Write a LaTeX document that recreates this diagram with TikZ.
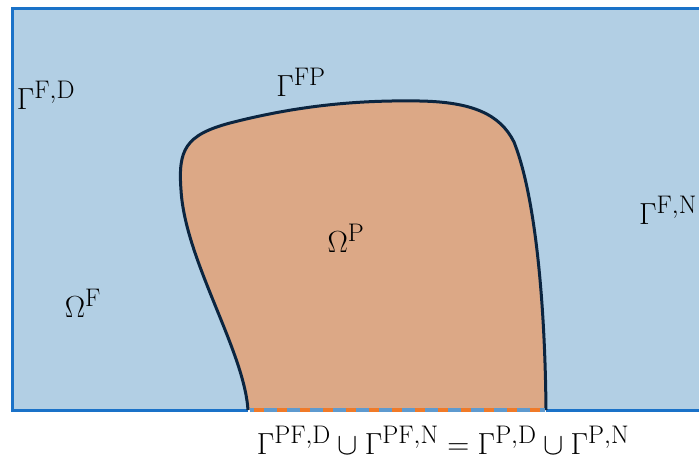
\documentclass[tikz,border=0pt]{standalone}
\usepackage{amsmath}
\usepackage{graphicx}
\definecolor{rimblue}{HTML}{1A72C8}
\definecolor{fluidfill}{HTML}{B2CFE4}
\definecolor{porofill}{HTML}{DCA886}
\definecolor{curvecol}{HTML}{0B2540}
\definecolor{dashorange}{HTML}{F07A28}
\definecolor{lineblue}{HTML}{5E9ACF}
\newcommand{\mylbl}[1]{\scalebox{1.225}{$#1$}}
\tikzset{
  lbl/.style={inner sep=0pt, font=\fontsize{24.88}{30}\selectfont},
}
\begin{document}
\begin{tikzpicture}[x=1pt,y=-1pt]
\useasboundingbox (0,0) rectangle (699,464);
\clip (0,0) rectangle (699,464);
\fill[white] (0,0) rectangle (699,464);
% fluid domain
\fill[fluidfill] (12,8) rectangle (720,410);
% poro domain
\fill[porofill] (248,410) .. controls (244,350) and (185,260) .. (181,190)
  .. controls (178,150) and (185,135) .. (230,123)
  .. controls (300,105) and (360,100) .. (420,101)
  .. controls (472,102) and (500,114) .. (514,142)
  .. controls (535,195) and (545,300) .. (546,410) -- cycle;
% outer boundary
\draw[rimblue, line width=3pt] (720,8) -- (12,8) -- (12,410) -- (248,410);
\draw[rimblue, line width=3pt] (546,410) -- (720,410);
% interface
\draw[curvecol, line width=3pt] (248,410) .. controls (244,350) and (185,260) .. (181,190)
  .. controls (178,150) and (185,135) .. (230,123)
  .. controls (300,105) and (360,100) .. (420,101)
  .. controls (472,102) and (500,114) .. (514,142)
  .. controls (535,195) and (545,300) .. (546,410);
% bottom of poro domain
\draw[lineblue, line width=3.5pt] (249.5,410) -- (544.5,410);
\draw[dashorange, line width=3.5pt, dash pattern=on 10pt off 13pt, dash phase=-4pt] (249.5,410) -- (544.5,410);
% labels
\node[lbl] (gfd) at (46,95) {\mylbl{\Gamma^{\mathrm{F,D}}}};
\node[lbl] (gfp) at (301,82) {\mylbl{\Gamma^{\mathrm{FP}}}};
\node[lbl] (op) at (346,238) {\mylbl{\Omega^{\mathrm{P}}}};
\node[lbl] (of) at (83,303) {\mylbl{\Omega^{\mathrm{F}}}};
\node[lbl] (gfn) at (668,210) {\mylbl{\Gamma^{\mathrm{F,N}}}};
\node[lbl] (eq) at (443,440) {\mylbl{\Gamma^{\mathrm{PF,D}}\cup\Gamma^{\mathrm{PF,N}}=\Gamma^{\mathrm{P,D}}\cup\Gamma^{\mathrm{P,N}}}};
\end{tikzpicture}
\end{document}
